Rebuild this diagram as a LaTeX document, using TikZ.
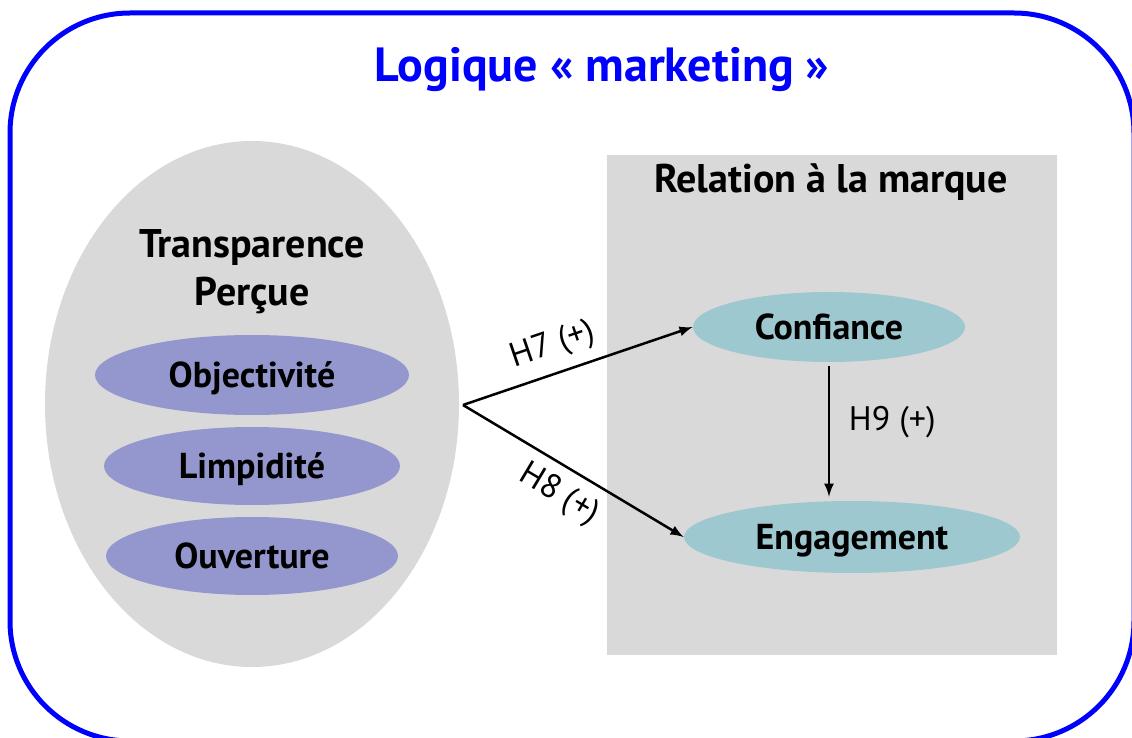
\documentclass[tikz,border=0pt]{standalone}
\usepackage{fontspec}
\setmainfont{PT Sans}
\usetikzlibrary{arrows,shapes.geometric}
\definecolor{cadre}{RGB}{0,0,255}
\definecolor{fond}{RGB}{217,217,217}
\definecolor{dimension}{RGB}{148,151,206}
\definecolor{lien}{RGB}{158,200,208}
\tikzset{
	gros/.style={font=\fontsize{20}{24}\selectfont\bfseries},
	bulle/.style={ellipse, inner sep=0pt, text height=12.3pt, text depth=0pt, font=\fontsize{18}{22}\selectfont\bfseries},
	dim/.style={bulle, fill=dimension},
	rel/.style={bulle, fill=lien},
	hyp/.style={font=\fontsize{17}{20}\selectfont},
	fleche/.style={-latex, line width=1.25pt}
}

\begin{document}
\begin{tikzpicture}[x=0.5pt,y=-0.5pt]
			\useasboundingbox (0,0) rectangle (1132,738);
			\draw[cadre, line width=2.5pt, rounded corners=60pt] (10,13) rectangle (1134,741);
			\node[anchor=base, text=cadre, font=\fontsize{24}{28}\selectfont\bfseries] (titre) at (602,82) {Logique « marketing »};
			\node[ellipse, fill=fond, inner sep=0pt, minimum width=207pt, minimum height=263pt] (transp) at (252,404) {};
			\node[gros, anchor=base] (transpA) at (252,258) {Transparence};
			\node[gros, anchor=base] (transpB) at (252,306) {Perçue};
			\node[dim, minimum width=157pt, minimum height=40pt] (objectivite) at (252,375) {Objectivité};
			\node[dim, minimum width=148pt, minimum height=39pt] (limpidite) at (252,466) {Limpidité};
			\node[dim, minimum width=146pt, minimum height=39pt] (ouverture) at (252,556) {Ouverture};
			\fill[fond] (607,155) rectangle (1057,655);
			\node[gros, anchor=base] (marque) at (831,193) {Relation à la marque};
			\node[rel, minimum width=136pt, minimum height=35pt] (conf) at (829,327) {Confiance};
			\node[rel, minimum width=168pt, minimum height=36pt] (eng) at (852,537) {Engagement};
			\coordinate (source) at (463,405);
			\coordinate (cible) at (conf.south |- eng.north);
			\path[fleche]
			(source) edge node[hyp, above=2pt, sloped, pos=0.43]{H7 (+)} (conf.west)
					edge node[hyp, below=2pt, sloped, pos=0.5]{H8 (+)} (eng.west)
			(conf.south) edge[shorten <=2pt, shorten >=2pt] node[hyp, right=6pt, pos=0.43]{H9 (+)} (cible);
		\end{tikzpicture}
\end{document}
